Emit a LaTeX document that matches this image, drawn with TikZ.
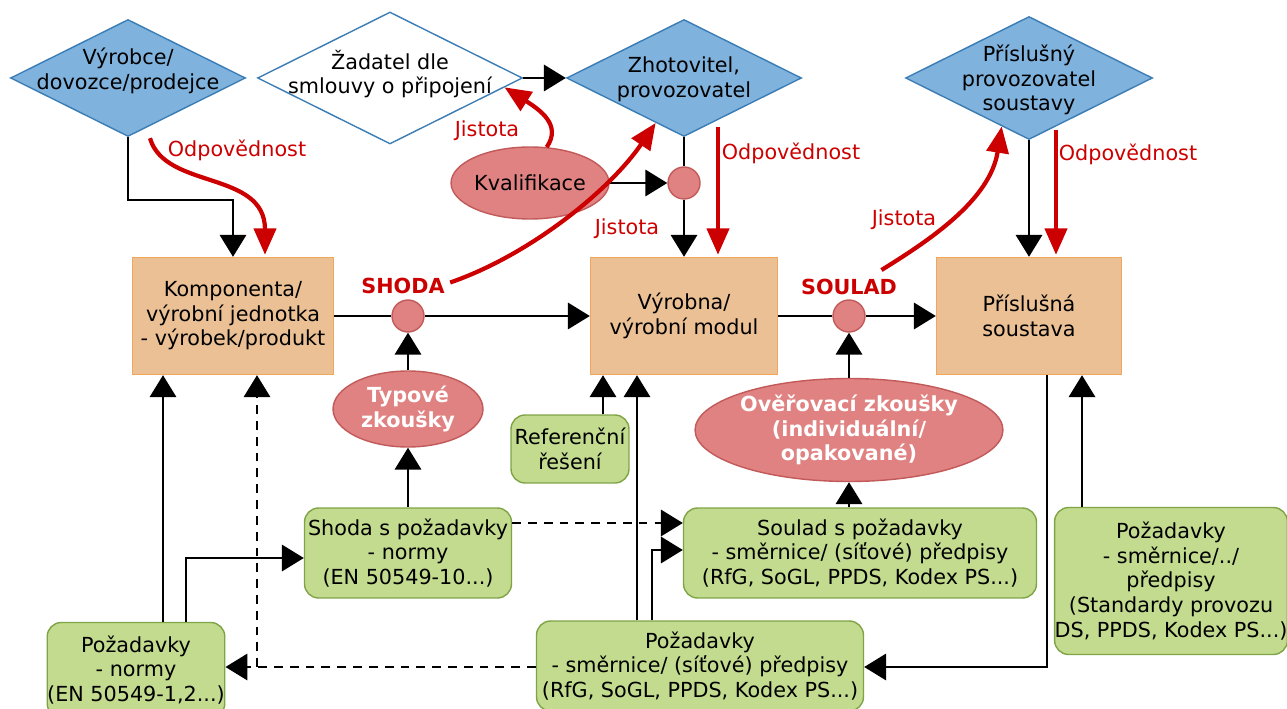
\documentclass[tikz,border=0pt]{standalone}
\usepackage{fontspec}
\setmainfont{DejaVu Sans}
\usetikzlibrary{shapes.geometric,arrows.meta,positioning,calc}

\definecolor{diablue}{HTML}{7FB2DC}
\definecolor{diaedge}{HTML}{3B7DB4}
\definecolor{unitfill}{HTML}{EBC095}
\definecolor{unitedge}{HTML}{F2A65A}
\definecolor{testfill}{HTML}{E08282}
\definecolor{testedge}{HTML}{C25A5A}
\definecolor{reqfill}{HTML}{C3DB8E}
\definecolor{reqedge}{HTML}{7FA446}
\definecolor{respred}{HTML}{CC0000}

\begin{document}
\begin{tikzpicture}[x=0.02cm,y=-0.02cm,>={Triangle[length=12.5pt,width=15pt]},
    font=\fontsize{11.8}{14}\selectfont,
    dia/.style={diamond,draw=diaedge,fill=diablue,line width=0.8pt,inner sep=0pt},
    txt/.style={align=center,inner sep=0pt},
    unit/.style={rectangle,draw=unitedge,fill=unitfill,line width=0.8pt,minimum height=2.34cm,align=center},
    test/.style={ellipse,draw=testedge,fill=testfill,line width=0.8pt,inner sep=0pt,align=center},
    testb/.style={test,text=white,font=\fontsize{11.8}{14}\selectfont\bfseries},
    dot/.style={circle,draw=testedge,fill=testfill,line width=0.8pt,minimum size=0.64cm,inner sep=0pt},
    req/.style={rectangle,rounded corners=8pt,draw=reqedge,fill=reqfill,line width=0.8pt,inner xsep=2pt,align=center},
    arr/.style={->,line width=1.4pt},
    arrd/.style={arr,dash pattern=on 5pt off 4pt},
    resp/.style={draw=respred,line width=2.4pt,-{Triangle[length=15pt,width=12.5pt]}},
    lbl/.style={text=respred,inner sep=1pt},
    lblb/.style={lbl,font=\fontsize{11.8}{14}\selectfont\bfseries}]
  \useasboundingbox (0,0) rectangle (1287,709);

  % subjects
  \node[dia,minimum width=4.7cm,minimum height=2.34cm] (vyr) at (128,78) {};
  \node[txt] (vyrt) at (128,71) {Výrobce/\\dovozce/prodejce};
  \node[dia,fill=white,minimum width=5.3cm,minimum height=2.64cm] (zad) at (390,78) {};
  \node[txt] (zadt) at (390,74) {Žadatel dle\\smlouvy o připojení};
  \node[dia,minimum width=4.7cm,minimum height=2.34cm] (zhot) at (684,78) {};
  \node[txt] (zhott) at (684,79) {Zhotovitel,\\provozovatel};
  \node[dia,minimum width=4.94cm,minimum height=2.46cm] (prov) at (1029,78) {};
  \node[txt] (provt) at (1029,80) {Příslušný\\provozovatel\\soustavy};

  % units
  \node[unit,minimum width=4.02cm] (komp) at (233,316) {Komponenta/\\výrobní jednotka\\- výrobek/produkt};
  \node[unit,minimum width=3.74cm] (vyrobna) at (684,316) {Výrobna/\\výrobní modul};
  \node[unit,minimum width=3.7cm] (soust) at (1029,316) {Příslušná\\soustava};

  \node[dot] (shodadot) at (408,316) {};
  \node[dot] (souladdot) at (849,316) {};
  \node[dot] (kvaldot) at (684,183) {};

  % tests
  \node[test,minimum width=3cm,minimum height=1.44cm] (kval) at (530,183) {Kvalifikace};
  \node[testb,minimum width=3cm,minimum height=1.52cm] (typ) at (408,409) {Typové\\zkoušky};
  \node[testb,minimum width=5.66cm,minimum height=2.06cm] (over) at (849,430) {Ověřovací zkoušky\\(individuální/\\opakované)};

  % requirements
  \node[req,minimum width=2.36cm,minimum height=1.36cm] (ref) at (570,449) {Referenční\\řešení};
  \node[req,minimum width=3.98cm,minimum height=1.8cm] (shodareq) at (408,553) {Shoda s požadavky\\- normy\\(EN 50549-10...)};
  \node[req,minimum width=7.06cm,minimum height=1.8cm] (souladreq) at (860,553) {Soulad s požadavky\\- směrnice/ (síťové) předpisy\\(RfG, SoGL, PPDS, Kodex PS...)};
  \node[req,minimum width=6.54cm,minimum height=1.8cm] (smerreq) at (700,666) {Požadavky\\- směrnice/ (síťové) předpisy\\(RfG, SoGL, PPDS, Kodex PS...)};
  \node[req,minimum width=3.44cm,minimum height=1.9cm,inner xsep=0pt] (normreq) at (136,670) {Požadavky\\- normy\\(EN 50549-1,2...)};
  \node[req,minimum width=4.64cm,minimum height=2.94cm,inner xsep=0pt] (provreq) at (1171,581) {Požadavky\\- směrnice/../\\předpisy\\(Standardy provozu\\DS, PPDS, Kodex PS...)};

  % labels
  \node[lbl] (odp1) at (237,150) {Odpovědnost};
  \node[lbl] (odp2) at (791,153) {Odpovědnost};
  \node[lbl] (odp3) at (1128,154) {Odpovědnost};
  \node[lbl] (jis1) at (487,131) {Jistota};
  \node[lbl] (jis2) at (627,229) {Jistota};
  \node[lbl] (jis3) at (904,220) {Jistota};
  \node[lblb] (shoda) at (403,286) {SHODA};
  \node[lblb] (soulad) at (849,287) {SOULAD};

  % black connectors
  \draw[arr] (vyr.south) -- (vyr.south |- 0,200) -| (komp.north);
  \draw[arr] (zad.east) -- (zhot.west);
  \draw[line width=1.4pt] (zhot.south) -- (kvaldot.north);
  \draw[arr] (kvaldot.south) -- (vyrobna.north);
  \draw[arr] (kval.east) -- (kvaldot.west);
  \draw[arr] (prov.south) -- (soust.north);
  \draw[line width=1.4pt] (komp.east) -- (shodadot.west);
  \draw[arr] (shodadot.east) -- (vyrobna.west);
  \draw[line width=1.4pt] (vyrobna.east) -- (souladdot.west);
  \draw[arr] (souladdot.east) -- (soust.west);
  \draw[arr] (typ.north) -- (shodadot.south);
  \draw[arr] (shodareq.north) -- (typ.south);
  \draw[arr] (over.north) -- (souladdot.south);
  \draw[arr] (souladreq.north -| over.south) -- (over.south);
  \draw[arr] (ref.north -| 603,0) -- (vyrobna.south -| 603,0);
  \draw[arr] (smerreq.north -| 637,0) -- (vyrobna.south -| 637,0);
  \draw[arr] (smerreq.north -| 652,0) |- (souladreq.west |- 0,550);
  \draw[arr] (normreq.north -| 163,0) -- (komp.south -| 163,0);
  \draw[arr] (normreq.north -| 186,0) |- (shodareq.west |- 0,558);
  \draw[arr] (soust.south -| 1047,0) |- (smerreq.east |- 0,667);
  \draw[arr] (provreq.north -| 1082,0) -- (soust.south -| 1082,0);

  % dashed connectors
  \coordinate (dj) at (257,667);
  \draw[arrd] (smerreq.west |- dj) -- (dj) -- (normreq.east |- dj);
  \draw[arrd] (dj) -- (komp.south -| dj);
  \draw[arrd] (shodareq.east |- 0,523) -- (souladreq.west |- 0,523);

  % responsibility and assurance
  \draw[resp] ($(vyr.south)+(22,1)$) .. controls (165,190) and (265,170) .. ($(komp.north)+(32,-2)$);
  \draw[resp] ($(zhot.south)+(34,-10)$) -- ($(vyrobna.north)+(34,-2)$);
  \draw[resp] ($(prov.south)+(27,-10)$) -- ($(soust.north)+(27,-2)$);
  \draw[resp] (kval.65) .. controls (562,125) and (540,110) .. ($(zad.east)!0.14!(zad.south)$);
  \draw[resp] ([xshift=2pt,yshift=2pt]shoda.east) .. controls (530,255) and (610,190) .. ($(zhot.west)!0.76!(zhot.south)$);
  \draw[resp] ([xshift=-10pt,yshift=4pt]soulad.north east) .. controls (930,240) and (990,200) .. ($(prov.west)!0.78!(prov.south)$);
\end{tikzpicture}
\end{document}
